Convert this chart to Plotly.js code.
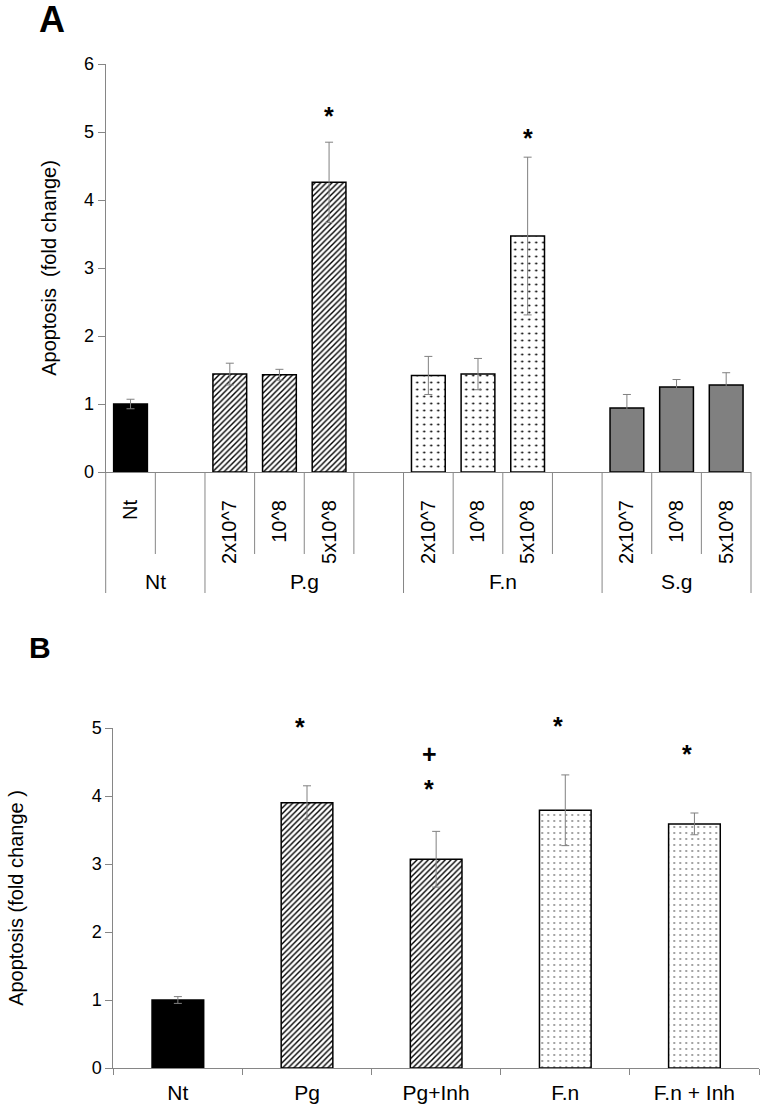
<!DOCTYPE html>
<html><head><meta charset="utf-8">
<script src="https://cdn.plot.ly/plotly-3.0.1.min.js"></script>
<style>html,body{margin:0;padding:0;background:#fff}#chart{width:768px;height:1110px}</style>
</head><body><div id="chart"></div>
<script>
// ---------- Panel A data ----------
const slotGroupA = ['Nt','Nt','P.g','P.g','P.g','P.g','F.n','F.n','F.n','F.n','S.g','S.g','S.g'];
const slotLabelA = ['Nt','','2x10^7','10^8','5x10^8','','2x10^7','10^8','5x10^8','','2x10^7','10^8','5x10^8'];
const meanA = [1.00,null,1.44,1.43,4.26,null,1.42,1.44,3.47,null,0.94,1.25,1.28];
const errA  = [0.07,null,0.16,0.08,0.59,null,0.28,0.23,1.16,null,0.20,0.11,0.18];
const sigGroupA = ['P.g','F.n'];
const sigDoseA  = ['5x10^8','5x10^8'];
const sigTextA  = ['*','*'];
const sigLevelA = [5.32,5.00];

// ---------- Panel B data ----------
const catB  = ['Nt','Pg','Pg+Inh','F.n','F.n + Inh'];
const meanB = [1.00,3.90,3.07,3.79,3.59];
const errB  = [0.05,0.25,0.41,0.52,0.16];
const sigCatB   = ['Pg','Pg+Inh','Pg+Inh','F.n','F.n + Inh'];
const sigTextB  = ['*','+','*','*','*'];
const sigLevelB = [5.10,4.62,4.19,5.12,4.71];

// ---------- styles ----------
const FONT = 'Liberation Sans, Arial, sans-serif';
const AXC = '#868686';
const ERRC = '#808080';
const styleA = {
  'Nt':  {color:'#000000', shape:'',  fg:'#000000', size:8, sol:0.3},
  'P.g': {color:'#ffffff', shape:'/', fg:'#000000', size:4, sol:0.35},
  'F.n': {color:'#ffffff', shape:'.', fg:'#000000', size:7, sol:0.08},
  'S.g': {color:'#808080', shape:'',  fg:'#000000', size:8, sol:0.3}
};
const styleB = {
  'Nt':        {color:'#000000', shape:'',  fg:'#000000', size:8, sol:0.3},
  'Pg':        {color:'#ffffff', shape:'/', fg:'#000000', size:4, sol:0.35},
  'Pg+Inh':    {color:'#ffffff', shape:'/', fg:'#000000', size:4, sol:0.35},
  'F.n':       {color:'#ffffff', shape:'.', fg:'#777777', size:6, sol:0.07},
  'F.n + Inh': {color:'#ffffff', shape:'.', fg:'#777777', size:6, sol:0.07}
};

const keyA = slotGroupA.map((g,i)=> g + '|' + slotLabelA[i]);
const rangeA = [0,6], rangeB = [0,5];

function barTrace(xs, ys, es, st, xa, ya, w) {
  const marker = {color: st.color, line:{color:'#000000', width:1.5}};
  if (st.shape) marker.pattern = {shape: st.shape, fgcolor: st.fg, bgcolor: st.color, size: st.size, solidity: st.sol, fillmode:'replace'};
  return {type:'bar', x:xs, y:ys, xaxis:xa, yaxis:ya, width:w, marker:marker,
    error_y:{type:'data', array:es, visible:true, color:ERRC, thickness:1, width:4}, hoverinfo:'skip'};
}

const traces = [];
const groupsA = [...new Set(slotGroupA)];
groupsA.forEach(g => {
  const idx = slotGroupA.map((v,i)=> (v===g && meanA[i] !== null) ? i : -1).filter(i=>i>=0);
  traces.push(barTrace(idx.map(i=>keyA[i]), idx.map(i=>meanA[i]), idx.map(i=>errA[i]), styleA[g], 'x', 'y', 0.68));
});
catB.forEach((c,i) => {
  traces.push(barTrace([c], [meanB[i]], [errB[i]], styleB[c], 'x2', 'y2', 0.4));
});

// geometry
const domXA = [105.7/768, 751/768], domYA = [(1110-472)/1110, (1110-64)/1110];
const domXB = [113.3/768, 759/768], domYB = [(1110-1068)/1110, (1110-728)/1110];

// category separators under panel A axis
const shapes = [];
for (let i = 0; i < keyA.length - 1; i++) {
  const groupBoundary = slotGroupA[i] !== slotGroupA[i+1];
  shapes.push({type:'line', xref:'x', yref:'paper', ysizemode:'pixel', yanchor:domYA[0],
    x0:i+0.5, x1:i+0.5, y0:0, y1: groupBoundary ? -121 : -82, line:{color:AXC, width:1}});
}
[0,1].forEach(d => shapes.push({type:'line', xref:'x domain', yref:'paper', ysizemode:'pixel', yanchor:domYA[0],
  x0:d, x1:d, y0:0, y1:-121, line:{color:AXC, width:1}}));

const annotations = [];
groupsA.forEach(g => {
  const idx = slotGroupA.map((v,i)=> v===g ? i : -1).filter(i=>i>=0);
  const c = (idx[0] + idx[idx.length-1]) / 2;
  annotations.push({xref:'x', yref:'paper', x:c, y:domYA[0], yshift:-109, yanchor:'middle', xanchor:'center',
    text:g, showarrow:false, font:{family:FONT, size:21, color:'#000'}});
});
// significance marks (y given as fraction of the value axis so marks above the axis top stay visible)
const SIGFONT = {family:FONT, size:25, color:'#000', weight:'bold'};
sigGroupA.forEach((g,i) => {
  annotations.push({xref:'x', yref:'y domain', x: g + '|' + sigDoseA[i],
    y: (sigLevelA[i]-rangeA[0])/(rangeA[1]-rangeA[0]), yanchor:'middle', yshift:-6,
    text:sigTextA[i], showarrow:false, font:SIGFONT});
});
sigCatB.forEach((c,i) => {
  annotations.push({xref:'x2', yref:'y2 domain', x:c,
    y: (sigLevelB[i]-rangeB[0])/(rangeB[1]-rangeB[0]), yanchor:'middle',
    xshift:-7, yshift: sigTextB[i]==='*' ? -6 : 0,
    text:sigTextB[i], showarrow:false, font:SIGFONT});
});
annotations.push({xref:'paper', yref:'paper', x:37/768, y:(1110-19.5)/1110, xanchor:'left', yanchor:'middle',
  text:'<b>A</b>', showarrow:false, font:{family:FONT, size:36, color:'#000'}});
annotations.push({xref:'paper', yref:'paper', x:27/768, y:(1110-647.5)/1110, xanchor:'left', yanchor:'middle',
  text:'<b>B</b>', showarrow:false, font:{family:FONT, size:30, color:'#000'}});

const yCommon = {showline:true, linecolor:AXC, linewidth:1, ticks:'outside', ticklen:7, tickcolor:AXC,
  showgrid:false, zeroline:false, dtick:1, tickfont:{family:FONT, size:18, color:'#000'}, automargin:false};

const layout = {
  width:768, height:1110, margin:{l:0,r:0,t:0,b:0}, paper_bgcolor:'#fff', plot_bgcolor:'#fff',
  showlegend:false, barmode:'overlay', font:{family:FONT, color:'#000'},
  xaxis:{domain:domXA, anchor:'y', type:'category', categoryorder:'array', categoryarray:keyA,
    tickmode:'array', tickvals:keyA, ticktext:slotLabelA, tickangle:-90, ticks:'', showline:true,
    linecolor:AXC, linewidth:1, range:[-0.5, keyA.length-0.5], showgrid:false, zeroline:false,
    ticklabelstandoff:19, tickfont:{family:FONT, size:20, color:'#000'}, automargin:false},
  yaxis:Object.assign({}, yCommon, {domain:domYA, anchor:'x', range:rangeA,
    title:{text:'Apoptosis\u00a0 (fold change)', font:{family:FONT, size:20, color:'#000'}, standoff:22}}),
  xaxis2:{domain:domXB, anchor:'y2', type:'category', categoryorder:'array', categoryarray:catB,
    ticks:'outside', tickson:'boundaries', ticklen:6,
    tickcolor:AXC, showline:true, linecolor:AXC, linewidth:1, showgrid:false, zeroline:false,
    ticklabelstandoff:6, tickfont:{family:FONT, size:21, color:'#000'}, automargin:false},
  yaxis2:Object.assign({}, yCommon, {domain:domYB, anchor:'x2', range:rangeB,
    title:{text:'Apoptosis (fold change )', font:{family:FONT, size:20, color:'#000'}, standoff:62}}),
  shapes: shapes,
  annotations: annotations
};

Plotly.newPlot('chart', traces, layout, {staticPlot:true, displayModeBar:false});
</script></body></html>
